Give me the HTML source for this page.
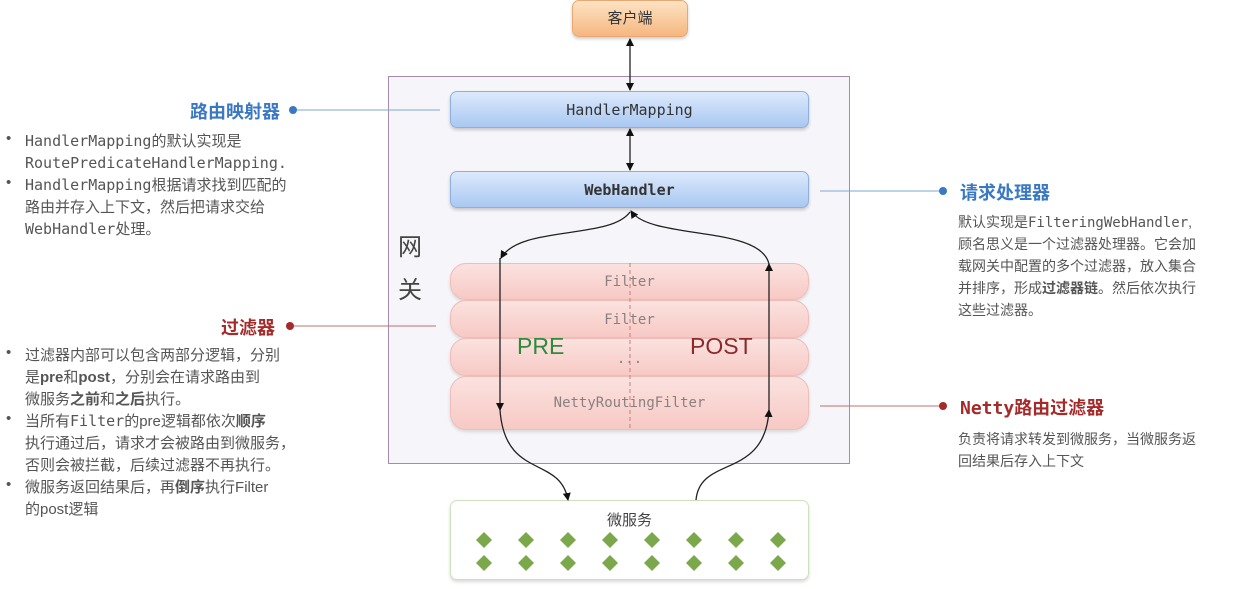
<!DOCTYPE html>
<html><head><meta charset="utf-8">
<style>
*{margin:0;padding:0;box-sizing:border-box}
body{width:1242px;height:589px;background:#fff;position:relative;overflow:hidden;font-family:"Liberation Sans","Noto Sans CJK SC",sans-serif;color:#555}
.a{position:absolute}
.mono{font-family:"DejaVu Sans Mono","Liberation Mono","Noto Sans CJK SC",monospace}
.box{position:absolute;border-radius:7px}
.blue{left:450px;width:359px;height:37px;background:linear-gradient(#dde9fb,#a9c8f2);border:1px solid #8fb0df;box-shadow:0 2px 3px rgba(0,0,0,.2);text-align:center;line-height:36px;font-size:15px;color:#333}
.pink{left:450px;width:359px;background:linear-gradient(#fbe2df,#f7c9c5);border:1px solid #f0bdb8;border-radius:16px;box-shadow:0 2px 3px rgba(0,0,0,.12);text-align:center;font-size:14px;color:#8a8080}
.t{font-size:14px;line-height:22px;color:#555}
.t span,.t b{line-height:1}
.t .mono{font-size:14px}
.l{font-size:15px}
.l .mono{font-size:15px}
.li{position:absolute;left:6px}
</style></head><body>
<div class="box" style="left:572px;top:0;width:116px;height:37px;background:linear-gradient(#fde3c4,#f6b780);border:1px solid #e9a873;box-shadow:0 2px 3px rgba(0,0,0,.2);text-align:center;line-height:36px;font-size:15px;color:#333">客户端</div>
<div class="a" style="left:388px;top:76px;width:462px;height:388px;border:1.5px solid #a48bb0;background:#f6f5f9"></div>
<div class="a" style="left:398px;top:226px;font-size:24px;line-height:43px;color:#444">网<br>关</div>
<div class="box blue mono" style="top:91px">HandlerMapping</div>
<div class="box blue mono" style="top:171px;font-weight:bold">WebHandler</div>
<div class="box pink mono" style="top:263px;height:37px;line-height:36px">Filter</div>
<div class="box pink mono" style="top:300px;height:38px;line-height:38px">Filter</div>
<div class="box pink mono" style="top:338px;height:38px;line-height:40px">...</div>
<div class="box pink mono" style="top:376px;height:54px;line-height:52px">NettyRoutingFilter</div>
<div class="a" style="left:517px;top:333px;font-size:23px;color:#2e8b3a">PRE</div>
<div class="a" style="left:690px;top:333px;font-size:23px;color:#8b2a2a">POST</div>
<div class="box" style="left:450px;top:500px;width:359px;height:80px;background:#fff;border:1.5px solid #cfe0bf;box-shadow:0 2px 3px rgba(0,0,0,.15);text-align:center;font-size:15px;color:#444;padding-top:8px">微服务</div>
<svg class="a" style="left:0;top:0" width="1242" height="589">
<defs><marker id="m" markerWidth="8" markerHeight="8" refX="7" refY="4" orient="auto-start-reverse" markerUnits="userSpaceOnUse"><path d="M0,0L8,4L0,8z" fill="#111"/></marker></defs>
<line x1="630" y1="263" x2="630" y2="430" stroke="#c08080" stroke-dasharray="4,3"/>
<g fill="#7aa84a"><g id="r">
<path d="M484,532l8,8-8,8-8-8z"/><path d="M526,532l8,8-8,8-8-8z"/><path d="M568,532l8,8-8,8-8-8z"/><path d="M610,532l8,8-8,8-8-8z"/><path d="M652,532l8,8-8,8-8-8z"/><path d="M694,532l8,8-8,8-8-8z"/><path d="M736,532l8,8-8,8-8-8z"/><path d="M778,532l8,8-8,8-8-8z"/></g>
<use href="#r" y="23"/></g>
<g stroke="#222" stroke-width="1.3" fill="none">
<line x1="630" y1="39" x2="630" y2="90" marker-start="url(#m)" marker-end="url(#m)"/>
<line x1="630" y1="129" x2="630" y2="170" marker-start="url(#m)" marker-end="url(#m)"/>
<path d="M630,212C610,240 520,225 501,258" marker-end="url(#m)"/>
<path d="M500,258L500,410" marker-end="url(#m)"/>
<path d="M500,410C505,480 560,455 568,500" marker-end="url(#m)"/>
<path d="M696,500C700,455 765,480 769,410" marker-end="url(#m)"/>
<path d="M769,410L769,264" marker-end="url(#m)"/>
<path d="M769,264C760,225 650,240 631,211" marker-end="url(#m)"/>
</g>
<line x1="293" y1="110" x2="440" y2="110" stroke="#7fa6d6"/><circle cx="293" cy="110" r="4" fill="#3a78c3"/>
<line x1="290" y1="326" x2="436" y2="326" stroke="#c07070"/><circle cx="290" cy="326" r="4" fill="#a52a2a"/>
<line x1="820" y1="191" x2="943" y2="191" stroke="#7fa6d6"/><circle cx="943" cy="191" r="4" fill="#3a78c3"/>
<line x1="820" y1="406" x2="943" y2="406" stroke="#c07070"/><circle cx="943" cy="406" r="4" fill="#a52a2a"/>
</svg>
<div class="a" style="left:180px;top:98px;width:100px;text-align:right;font-size:18px;font-weight:bold;color:#3a78c3">路由映射器</div>
<div class="a t l" style="left:18px;top:131px;width:300px">
<div style="position:relative;padding-left:7px"><span class="li" style="left:-12px">•</span><span class="mono">HandlerMapping</span>的默认实现是<br><span class="mono">RoutePredicateHandlerMapping.</span></div>
<div style="position:relative;padding-left:7px"><span class="li" style="left:-12px">•</span><span class="mono">HandlerMapping</span>根据请求找到匹配的<br>路由并存入上下文，然后把请求交给<br><span class="mono">WebHandler</span>处理。</div>
</div>
<div class="a" style="left:175px;top:314px;width:100px;text-align:right;font-size:18px;font-weight:bold;color:#a52a2a">过滤器</div>
<div class="a t l" style="left:18px;top:345px;width:300px">
<div style="position:relative;padding-left:7px"><span class="li" style="left:-12px">•</span>过滤器内部可以包含两部分逻辑，分别<br>是<b>pre</b>和<b>post</b>，分别会在请求路由到<br>微服务<b>之前</b>和<b>之后</b>执行。</div>
<div style="position:relative;padding-left:7px"><span class="li" style="left:-12px">•</span>当所有<span class="mono">Filter</span>的pre逻辑都依次<b>顺序</b><br>执行通过后，请求才会被路由到微服务，<br>否则会被拦截，后续过滤器不再执行。</div>
<div style="position:relative;padding-left:7px"><span class="li" style="left:-12px">•</span>微服务返回结果后，再<b>倒序</b>执行Filter<br>的post逻辑</div>
</div>
<div class="a" style="left:960px;top:179px;font-size:18px;font-weight:bold;color:#3a78c3">请求处理器</div>
<div class="a t" style="left:958px;top:211px;width:284px">默认实现是<span class="mono">FilteringWebHandler</span>,<br>顾名思义是一个过滤器处理器。它会加<br>载网关中配置的多个过滤器，放入集合<br>并排序，形成<b>过滤器链</b>。然后依次执行<br>这些过滤器。</div>
<div class="a" style="left:960px;top:394px;font-size:18px;font-weight:bold;color:#a52a2a"><span class="mono">Netty</span>路由过滤器</div>
<div class="a t" style="left:958px;top:428px;width:284px">负责将请求转发到微服务，当微服务返<br>回结果后存入上下文</div>
</body></html>
